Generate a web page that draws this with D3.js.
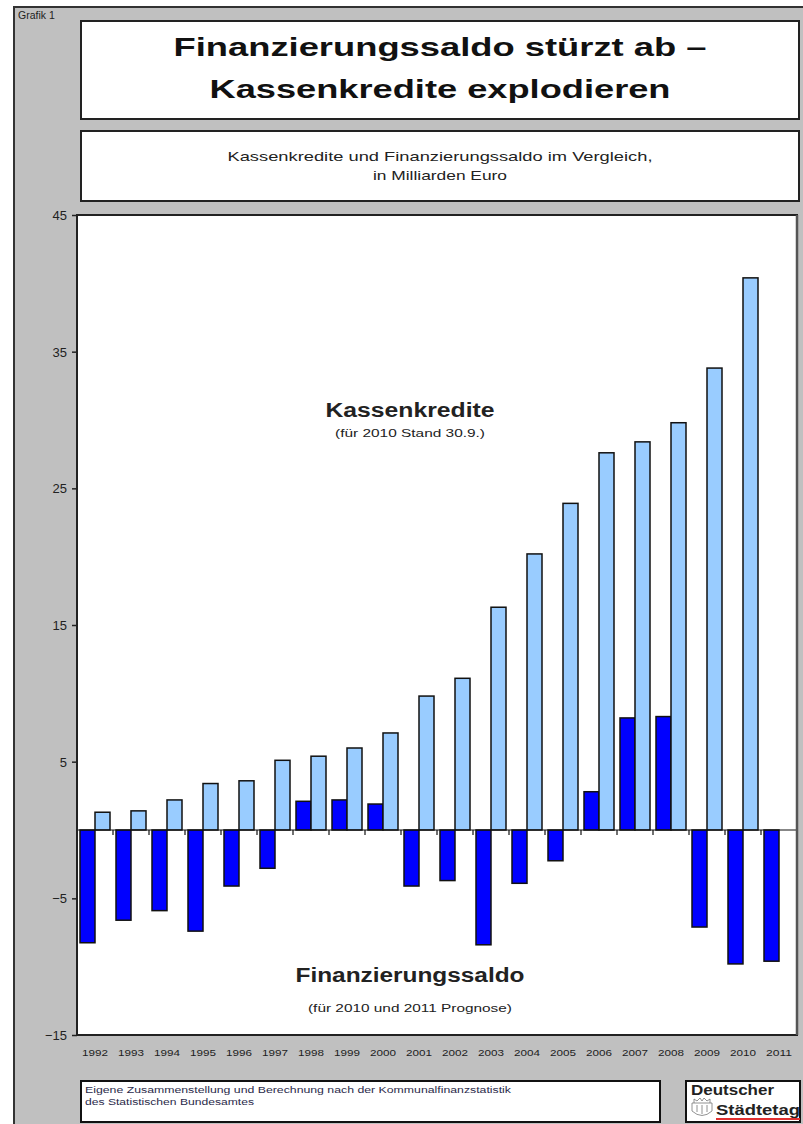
<!DOCTYPE html>
<html><head><meta charset="utf-8">
<script src="https://cdn.jsdelivr.net/npm/d3@7"></script>
<style>
html,body{margin:0;padding:0;background:#fff;}
svg{display:block;font-family:"Liberation Sans",Arial,sans-serif;}
</style></head>
<body>
<svg id="c" width="803" height="1124"></svg>
<script>
const years = ["1992","1993","1994","1995","1996","1997","1998","1999","2000","2001","2002","2003","2004","2005","2006","2007","2008","2009","2010","2011"];
const finanzierungssaldo = [-8.25,-6.6,-5.9,-7.4,-4.1,-2.8,2.1,2.2,1.9,-4.1,-3.7,-8.4,-3.9,-2.25,2.8,8.2,8.3,-7.1,-9.8,-9.6];
const kassenkredite = [1.3,1.4,2.2,3.4,3.6,5.1,5.4,6.0,7.1,9.8,11.1,16.3,20.2,23.9,27.6,28.4,29.8,33.8,40.4,null];
const seriesNames = ["Finanzierungssaldo","Kassenkredite"];
const yTicks = [-15,-5,5,15,25,35,45];
const titleLines = ["Finanzierungssaldo stürzt ab –","Kassenkredite explodieren"];
const subtitleLines = ["Kassenkredite und Finanzierungssaldo im Vergleich,","in Milliarden Euro"];
const sourceLines = ["Eigene Zusammenstellung und Berechnung nach der Kommunalfinanzstatistik","des Statistischen Bundesamtes"];

const svg = d3.select("#c");
const colors = {Finanzierungssaldo:"#0000ff", Kassenkredite:"#99ccff"};

// outer panel
svg.append("rect").attr("x",14).attr("y",7).attr("width",800).attr("height",1130)
  .attr("fill","#c0c0c0").attr("stroke","#333").attr("stroke-width",2);
svg.append("text").attr("x",18).attr("y",19).attr("font-size",10.5).attr("fill","#222").text("Grafik 1");

// title box
svg.append("rect").attr("x",81).attr("y",21).attr("width",718).attr("height",98)
  .attr("fill","#fff").attr("stroke","#222").attr("stroke-width",2);
const tW=[533,461];
titleLines.forEach((t,i)=>{
  svg.append("text").attr("x",440).attr("y",56+i*42).attr("text-anchor","middle")
    .attr("font-size",26).attr("font-weight","bold").attr("fill","#111")
    .attr("textLength",tW[i]).attr("lengthAdjust","spacingAndGlyphs").text(t);
});
// subtitle box
svg.append("rect").attr("x",81).attr("y",131).attr("width",718).attr("height",70)
  .attr("fill","#fff").attr("stroke","#222").attr("stroke-width",2);
const sW=[425,134];
subtitleLines.forEach((t,i)=>{
  svg.append("text").attr("x",440).attr("y",161+i*19).attr("text-anchor","middle")
    .attr("font-size",13.5).attr("fill","#222")
    .attr("textLength",sW[i]).attr("lengthAdjust","spacingAndGlyphs").text(t);
});

// plot
const L=77,R=797,T=215,B=1035;
const x = d3.scaleBand().domain(years).range([L,R]).paddingInner(0).paddingOuter(0);
const xs = d3.scaleBand().domain(seriesNames).range([0,x.bandwidth()]).paddingInner(0).paddingOuter(0.2);
const y = d3.scaleLinear().domain([-15,45]).range([B,T]);

svg.append("rect").attr("x",L).attr("y",T).attr("width",R-L).attr("height",B-T)
  .attr("fill","#fff").attr("stroke","none");

const data = years.map((yr,i)=>({year:yr, values:[
  {key:"Finanzierungssaldo", v:finanzierungssaldo[i]},
  {key:"Kassenkredite", v:kassenkredite[i]}]}));

const g = svg.append("g");
g.selectAll("g.yr").data(data).join("g").attr("class","yr")
  .attr("transform",d=>`translate(${x(d.year)},0)`)
  .selectAll("rect").data(d=>d.values.filter(v=>v.v!=null)).join("rect")
  .attr("x",d=>xs(d.key)).attr("width",xs.bandwidth())
  .attr("y",d=>y(Math.max(0,d.v))).attr("height",d=>Math.abs(y(d.v)-y(0)))
  .attr("fill",d=>colors[d.key]).attr("stroke","#111").attr("stroke-width",1.5);

// zero line and category ticks
svg.append("line").attr("x1",L).attr("x2",R).attr("y1",y(0)).attr("y2",y(0))
  .attr("stroke","#111").attr("stroke-width",1.2);
svg.append("g").selectAll("line").data(years.slice(1)).join("line")
  .attr("x1",d=>x(d)).attr("x2",d=>x(d)).attr("y1",y(0)).attr("y2",y(0)+5)
  .attr("stroke","#111").attr("stroke-width",1.2);

// plot border
svg.append("rect").attr("x",L).attr("y",T).attr("width",R-L).attr("height",B-T)
  .attr("fill","none").attr("stroke","#222").attr("stroke-width",2);
svg.append("line").attr("x1",R).attr("x2",R).attr("y1",T).attr("y2",B).attr("stroke","#555").attr("stroke-width",2.5);

// y axis
const ya = svg.append("g").attr("transform",`translate(${L},0)`)
  .call(d3.axisLeft(y).tickValues(yTicks).tickSize(5).tickPadding(5).tickFormat(d3.format("d")));
ya.select(".domain").remove();
ya.selectAll("line").attr("stroke","#222").attr("stroke-width",1.5);
ya.selectAll("text").attr("font-size",13).attr("fill","#222").attr("font-family","Liberation Sans, Arial, sans-serif").attr("dy","0.35em");

// x axis labels
const xa = svg.append("g").attr("transform",`translate(0,${B})`)
  .call(d3.axisBottom(x).tickSize(0).tickPadding(15));
xa.select(".domain").remove();
xa.selectAll("text").attr("font-size",9).attr("fill","#222").attr("font-family","Liberation Sans, Arial, sans-serif")
  .attr("textLength",26).attr("lengthAdjust","spacingAndGlyphs");

// annotations
svg.append("text").attr("x",410).attr("y",417).attr("text-anchor","middle").attr("font-size",20)
  .attr("font-weight","bold").attr("fill","#222").attr("textLength",169).attr("lengthAdjust","spacingAndGlyphs").text("Kassenkredite");
svg.append("text").attr("x",410).attr("y",437).attr("text-anchor","middle").attr("font-size",10.5)
  .attr("fill","#222").attr("textLength",150).attr("lengthAdjust","spacingAndGlyphs").text("(für 2010 Stand 30.9.)");
svg.append("text").attr("x",410).attr("y",982).attr("text-anchor","middle").attr("font-size",20)
  .attr("font-weight","bold").attr("fill","#222").attr("textLength",229).attr("lengthAdjust","spacingAndGlyphs").text("Finanzierungssaldo");
svg.append("text").attr("x",410).attr("y",1012).attr("text-anchor","middle").attr("font-size",11)
  .attr("fill","#222").attr("textLength",204).attr("lengthAdjust","spacingAndGlyphs").text("(für 2010 und 2011 Prognose)");

// source box
svg.append("rect").attr("x",81).attr("y",1081).attr("width",579).attr("height",41)
  .attr("fill","#fff").attr("stroke","#111").attr("stroke-width",2);
const srcW=[426,169];
sourceLines.forEach((t,i)=>{
  svg.append("text").attr("x",85).attr("y",1093+i*12).attr("font-size",8.5).attr("fill","#2a2a4a")
    .attr("textLength",srcW[i]).attr("lengthAdjust","spacingAndGlyphs").text(t);
});

// logo box
svg.append("rect").attr("x",686).attr("y",1081).attr("width",114).attr("height",41)
  .attr("fill","#fff").attr("stroke","#111").attr("stroke-width",2);
svg.append("text").attr("x",691).attr("y",1095).attr("font-size",15.5).attr("font-weight","bold").attr("fill","#222")
  .attr("textLength",83).attr("lengthAdjust","spacingAndGlyphs").text("Deutscher");
svg.append("text").attr("x",716).attr("y",1115).attr("font-size",15.5).attr("font-weight","bold").attr("fill","#222")
  .attr("textLength",84).attr("lengthAdjust","spacingAndGlyphs").text("Städtetag");
svg.append("line").attr("x1",716).attr("x2",800).attr("y1",1119).attr("y2",1119).attr("stroke","#e03030").attr("stroke-width",2);
// small crest
const crest = svg.append("g").attr("fill","none").attr("stroke","#777").attr("stroke-width",0.8);
crest.append("path").attr("d","M692,1103 L712,1103 L712,1111 Q702,1120 692,1111 Z");
crest.append("path").attr("d","M694,1103 L694,1099 L697,1101 L700,1098 L702,1101 L704,1098 L707,1101 L710,1099 L710,1103");
crest.append("line").attr("x1",697).attr("x2",697).attr("y1",1105).attr("y2",1112);
crest.append("line").attr("x1",702).attr("x2",702).attr("y1",1105).attr("y2",1114);
crest.append("line").attr("x1",707).attr("x2",707).attr("y1",1105).attr("y2",1112);
</script>
</body></html>
